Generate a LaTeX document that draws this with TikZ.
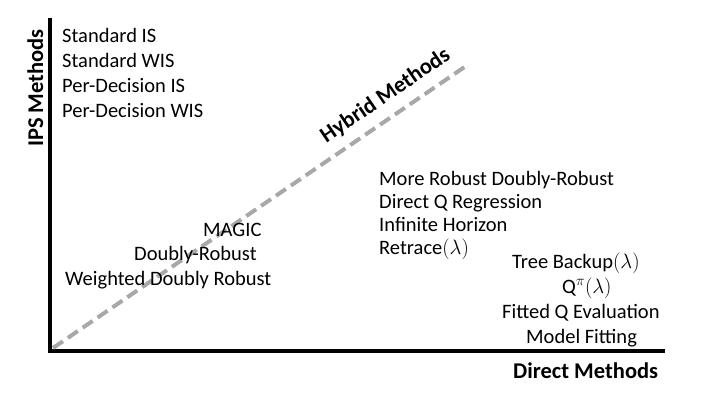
\documentclass[tikz,border=0pt]{standalone}
\usepackage{fontspec}
\setmainfont{Carlito}
\definecolor{dashgray}{RGB}{168,168,168}
\begin{document}
\begin{tikzpicture}[x=1pt,y=-1pt,
  lbl/.style={font=\fontsize{20.5}{24}\selectfont, inner sep=0pt, anchor=base west},
  axislbl/.style={font=\fontsize{22.5}{26}\selectfont\bfseries, inner sep=0pt, anchor=base west},
  axisline/.style={line width=4pt, black, line join=miter},
  hybridline/.style={line width=4pt, dashgray, dash pattern=on 12pt off 6pt}]
\useasboundingbox (0,0) rectangle (709,400);
% axes
\coordinate (top) at (50,18);
\coordinate (origin) at (50,351);
\coordinate (right) at (665,351);
\draw[axisline] (top) -- (origin) -- (right);
% hybrid diagonal
\coordinate (hstart) at (53,348);
\coordinate (hend) at (466,66);
\draw[hybridline] (hstart) -- (hend);
\node[font=\fontsize{22.5}{26}\selectfont\bfseries, inner sep=0pt, anchor=base, rotate=34.3] (hyb) at (389,101) {Hybrid Methods};
% axis labels
\node[font=\fontsize{22.5}{26}\selectfont\bfseries, inner sep=0pt, anchor=base, rotate=90] (ips) at (43,88) {IPS Methods};
\node[axislbl] (direct) at (513,378) {Direct Methods};
% IPS methods
\node[lbl] (sis) at (62,42) {Standard IS};
\node[lbl] (swis) at (62,67) {Standard WIS};
\node[lbl] (pdis) at (62,92) {Per-Decision IS};
\node[lbl] (pdwis) at (62,117) {Per-Decision WIS};
% hybrid methods
\node[lbl] (magic) at (203,236) {MAGIC};
\node[lbl] (dr) at (134,260) {Doubly-Robust};
\node[lbl] (wdr) at (65,285) {Weighted Doubly Robust};
\node[lbl] (mrdr) at (379,185) {More Robust Doubly-Robust};
\node[lbl] (dqr) at (379,208) {Direct Q Regression};
\node[lbl] (ih) at (379,231) {Infinite Horizon};
\node[lbl] (retr) at (379,254) {Retrace$(\lambda)$};
% direct methods
\node[lbl] (tb) at (512,268) {Tree Backup$(\lambda)$};
\node[lbl] (qpi) at (562,293) {Q$^{\pi}(\lambda)$};
\node[lbl] (fqe) at (502,318) {Fitted Q Evaluation};
\node[lbl] (mf) at (526,343) {Model Fitting};
\end{tikzpicture}
\end{document}
